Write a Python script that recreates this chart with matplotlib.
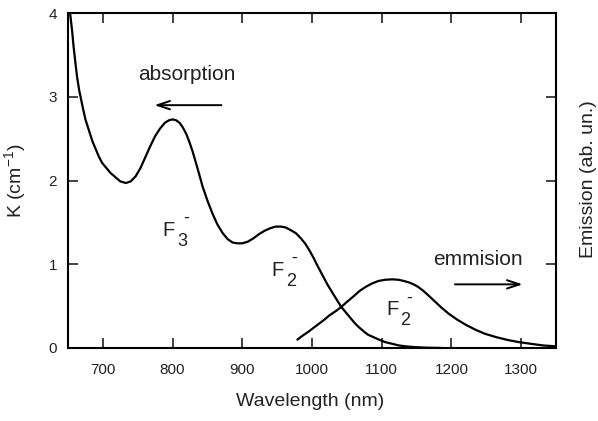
import numpy as np
import matplotlib
matplotlib.use('Agg')
import matplotlib.pyplot as plt

plt.rcParams['font.family'] = ['Liberation Sans', 'DejaVu Sans']
plt.rcParams['mathtext.fontset'] = 'custom'
plt.rcParams['mathtext.rm'] = 'Liberation Sans'
plt.rcParams['mathtext.default'] = 'regular'

# absorption spectrum K (cm^-1) vs wavelength (nm)
abs_nm = [653, 656, 658, 661, 663, 666, 668, 671, 675, 680, 685, 690, 694, 699, 704,
          711, 718, 725, 733, 740, 747, 754, 761, 768, 775, 782, 789, 795, 800, 805,
          810, 815, 820, 825, 829, 836, 843, 850, 857, 864, 872, 879, 886, 893, 900,
          908, 916, 924, 932, 940, 948, 955, 962, 969, 977, 984, 990, 996, 1002, 1008,
          1015, 1022, 1030, 1036, 1042, 1049, 1055, 1061, 1067, 1074, 1080, 1088, 1096,
          1105, 1115, 1125, 1134, 1148, 1165, 1186]
abs_k = [4.00, 3.78, 3.60, 3.38, 3.24, 3.08, 3.00, 2.88, 2.73, 2.60, 2.47, 2.37, 2.29, 2.21, 2.16,
         2.09, 2.04, 1.99, 1.97, 1.99, 2.05, 2.15, 2.28, 2.41, 2.53, 2.62, 2.69, 2.72, 2.73, 2.72,
         2.69, 2.63, 2.55, 2.44, 2.34, 2.14, 1.93, 1.76, 1.61, 1.48, 1.37, 1.30, 1.26, 1.25, 1.25,
         1.27, 1.31, 1.36, 1.40, 1.43, 1.45, 1.45, 1.44, 1.41, 1.37, 1.31, 1.25, 1.17, 1.08, 0.98,
         0.87, 0.76, 0.65, 0.57, 0.49, 0.42, 0.36, 0.30, 0.25, 0.20, 0.16, 0.13, 0.10,
         0.07, 0.05, 0.03, 0.02, 0.01, 0.004, 0.0]

# emission spectrum (arbitrary units, same scale)
em_nm = [979, 987, 995, 1002, 1010, 1018, 1025, 1034, 1042, 1050, 1060, 1068, 1077, 1086,
         1095, 1105, 1115, 1124, 1132, 1140, 1147, 1153, 1160, 1168, 1177, 1186, 1196, 1208,
         1220, 1234, 1248, 1264, 1281, 1297, 1314, 1332, 1350]
em_val = [0.10, 0.15, 0.195, 0.24, 0.29, 0.34, 0.39, 0.44, 0.49, 0.55, 0.62, 0.68, 0.73, 0.77,
          0.80, 0.815, 0.82, 0.815, 0.80, 0.78, 0.755, 0.725, 0.68, 0.62, 0.55, 0.48, 0.41, 0.34,
          0.28, 0.22, 0.17, 0.13, 0.095, 0.07, 0.05, 0.03, 0.02]

x_ticks = [700, 800, 900, 1000, 1100, 1200, 1300]
y_ticks = [0, 1, 2, 3, 4]

# band labels: (wavelength, K) of the F baseline, subscript
bands = [(786, 1.34, '3'), (942, 0.86, '2'), (1106, 0.39, '2')]

txt_col = '#222222'

fig = plt.figure(figsize=(5.98, 4.21), dpi=100)
ax = fig.add_axes([0.1137, 0.1734, 0.8161, 0.7956])

ax.plot(abs_nm, abs_k, color='black', lw=1.6, solid_joinstyle='round', solid_capstyle='round')
ax.plot(em_nm, em_val, color='black', lw=1.6, solid_joinstyle='round', solid_capstyle='round')

ax.set_xlim(650, 1350)
ax.set_ylim(0, 4)
ax.set_xticks(x_ticks)
ax.set_yticks(y_ticks)
ax.tick_params(direction='in', length=7, width=1.2, top=True, right=True,
               labelsize=11, color='#222222', labelcolor=txt_col)
ax.tick_params(axis='x', pad=11)
ax.tick_params(axis='y', pad=8)
for sp in ax.spines.values():
    sp.set_linewidth(1.5)

ax.text(0.496, -0.161, 'Wavelength (nm)', transform=ax.transAxes,
        ha='center', va='center', fontsize=14, color=txt_col)
ax.text(-0.109, 0.5, 'K (cm$^{-1}$)', transform=ax.transAxes, rotation=90,
        ha='center', va='center', fontsize=14, color=txt_col)
ax.text(1.066, 0.505, 'Emission (ab. un.)', transform=ax.transAxes, rotation=90,
        ha='center', va='center', fontsize=14, color=txt_col)

ax.text(821, 3.2, 'absorption', ha='center', va='baseline', fontsize=15, color=txt_col)
ax.annotate('', xy=(770, 2.90), xytext=(874, 2.90),
            arrowprops=dict(arrowstyle='->,head_length=0.9,head_width=0.3', lw=1.4, color='black'))
ax.text(1238, 0.99, 'emmision', ha='center', va='baseline', fontsize=15, color=txt_col)
ax.annotate('', xy=(1306, 0.76), xytext=(1201, 0.76),
            arrowprops=dict(arrowstyle='->,head_length=0.9,head_width=0.3', lw=1.4, color='black'))

for bx, by, sub in bands:
    ax.annotate('F', xy=(bx, by), ha='left', va='baseline', fontsize=14.5, color=txt_col)
    ax.annotate(sub, xy=(bx, by), xytext=(10.5, -7), textcoords='offset points',
                ha='left', va='baseline', fontsize=13, color=txt_col)
    ax.annotate('-', xy=(bx, by), xytext=(16.5, 12.5), textcoords='offset points',
                ha='center', va='center', fontsize=13, color=txt_col)

fig.savefig('out.png', dpi=100)
